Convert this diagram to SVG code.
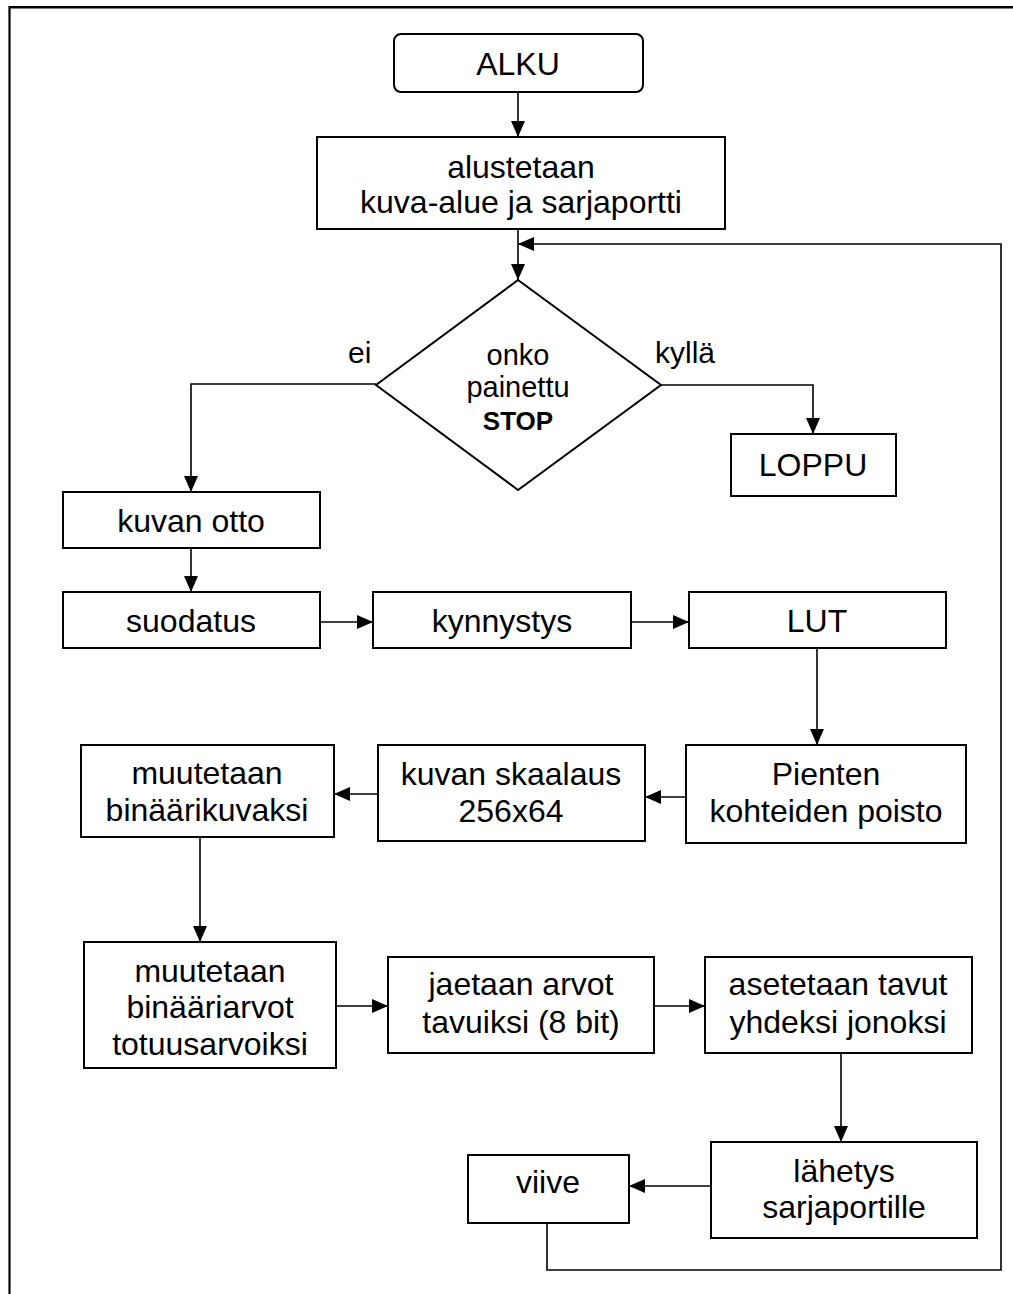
<svg xmlns="http://www.w3.org/2000/svg" width="1013" height="1294" viewBox="0 0 1013 1294">
  <style>
    .box { fill: #ffffff; stroke: #000000; stroke-width: 2; }
    .conn { fill: none; stroke: #000000; stroke-width: 1.6; }
    .t { font-family: "Liberation Sans", Arial, sans-serif; font-size: 32px; fill: #000000; text-anchor: middle; }
    .d { font-family: "Liberation Sans", Arial, sans-serif; font-size: 29px; fill: #000000; text-anchor: middle; }
    .lbl { font-family: "Liberation Sans", Arial, sans-serif; font-size: 30px; fill: #000000; }
    .b { font-weight: bold; font-size: 26px; }
  </style>
  <defs>
    <marker id="arr" markerUnits="userSpaceOnUse" markerWidth="17" markerHeight="15" refX="16" refY="7" orient="auto">
      <path d="M0,0 L16,7 L0,14 z" fill="#000000"/>
    </marker>
  </defs>
  <rect width="1013" height="1294" fill="#ffffff"/>
  <g id="border">
    <line x1="9.5" y1="7.3" x2="1013" y2="7.3" stroke="#000" stroke-width="2.6"/>
    <line x1="9.5" y1="6" x2="9.5" y2="1294" stroke="#000" stroke-width="2.2"/>
  </g>
  <g id="connectors">
    <line class="conn" x1="518" y1="92" x2="518" y2="137" marker-end="url(#arr)"/>
    <line class="conn" x1="518" y1="229" x2="518" y2="280" marker-end="url(#arr)"/>
    <polyline class="conn" points="376,384 191,384 191,492" marker-end="url(#arr)"/>
    <polyline class="conn" points="661,385 813,385 813,434" marker-end="url(#arr)"/>
    <line class="conn" x1="191" y1="548" x2="191" y2="592" marker-end="url(#arr)"/>
    <line class="conn" x1="320" y1="622" x2="373" y2="622" marker-end="url(#arr)"/>
    <line class="conn" x1="631" y1="622" x2="689" y2="622" marker-end="url(#arr)"/>
    <line class="conn" x1="817" y1="648" x2="817" y2="745" marker-end="url(#arr)"/>
    <line class="conn" x1="686" y1="797" x2="645" y2="797" marker-end="url(#arr)"/>
    <line class="conn" x1="378" y1="794" x2="334" y2="794" marker-end="url(#arr)"/>
    <line class="conn" x1="200" y1="837" x2="200" y2="942" marker-end="url(#arr)"/>
    <line class="conn" x1="336" y1="1006" x2="388" y2="1006" marker-end="url(#arr)"/>
    <line class="conn" x1="654" y1="1006" x2="705" y2="1006" marker-end="url(#arr)"/>
    <line class="conn" x1="841" y1="1053" x2="841" y2="1142" marker-end="url(#arr)"/>
    <line class="conn" x1="711" y1="1186" x2="629" y2="1186" marker-end="url(#arr)"/>
    <polyline class="conn" points="547,1223 547,1270 1001,1270 1001,244 518,244" marker-end="url(#arr)"/>
  </g>
  <g id="alku">
    <rect class="box" x="394" y="34" width="249" height="58" rx="7"/>
    <text class="t" x="518" y="75">ALKU</text>
  </g>
  <g id="alustetaan">
    <rect class="box" x="317" y="137" width="408" height="92"/>
    <text class="t" x="521" y="178">alustetaan</text>
    <text class="t" x="521" y="213">kuva-alue ja sarjaportti</text>
  </g>
  <g id="paatos">
    <polygon class="box" points="518,280 661,385 518,490 376,385"/>
    <text class="d" x="518" y="365">onko</text>
    <text class="d" x="518" y="397">painettu</text>
    <text class="d b" x="518" y="430">STOP</text>
  </g>
  <g id="label-ei">
    <text class="lbl" x="348" y="363">ei</text>
  </g>
  <g id="label-kylla">
    <text class="lbl" x="655" y="363">kyllä</text>
  </g>
  <g id="loppu">
    <rect class="box" x="731" y="434" width="165" height="62"/>
    <text class="t" x="813" y="476">LOPPU</text>
  </g>
  <g id="kuvan-otto">
    <rect class="box" x="63" y="492" width="257" height="56"/>
    <text class="t" x="191" y="532">kuvan otto</text>
  </g>
  <g id="suodatus">
    <rect class="box" x="63" y="592" width="257" height="56"/>
    <text class="t" x="191" y="632">suodatus</text>
  </g>
  <g id="kynnystys">
    <rect class="box" x="373" y="592" width="258" height="56"/>
    <text class="t" x="502" y="632">kynnystys</text>
  </g>
  <g id="lut">
    <rect class="box" x="689" y="592" width="257" height="56"/>
    <text class="t" x="817" y="632">LUT</text>
  </g>
  <g id="pienten">
    <rect class="box" x="686" y="745" width="280" height="98"/>
    <text class="t" x="826" y="785">Pienten</text>
    <text class="t" x="826" y="822">kohteiden poisto</text>
  </g>
  <g id="skaalaus">
    <rect class="box" x="378" y="745" width="267" height="96"/>
    <text class="t" x="511" y="785">kuvan skaalaus</text>
    <text class="t" x="511" y="822">256x64</text>
  </g>
  <g id="binaarikuva">
    <rect class="box" x="81" y="745" width="253" height="92"/>
    <text class="t" x="207" y="784">muutetaan</text>
    <text class="t" x="207" y="821">binäärikuvaksi</text>
  </g>
  <g id="totuusarvot">
    <rect class="box" x="84" y="942" width="252" height="126"/>
    <text class="t" x="210" y="982">muutetaan</text>
    <text class="t" x="210" y="1018">binääriarvot</text>
    <text class="t" x="210" y="1055">totuusarvoiksi</text>
  </g>
  <g id="jaetaan">
    <rect class="box" x="388" y="957" width="266" height="96"/>
    <text class="t" x="521" y="995">jaetaan arvot</text>
    <text class="t" x="521" y="1033">tavuiksi (8 bit)</text>
  </g>
  <g id="asetetaan">
    <rect class="box" x="705" y="957" width="267" height="96"/>
    <text class="t" x="838" y="995">asetetaan tavut</text>
    <text class="t" x="838" y="1033">yhdeksi jonoksi</text>
  </g>
  <g id="lahetys">
    <rect class="box" x="711" y="1142" width="266" height="96"/>
    <text class="t" x="844" y="1182">lähetys</text>
    <text class="t" x="844" y="1218">sarjaportille</text>
  </g>
  <g id="viive">
    <rect class="box" x="468" y="1155" width="161" height="68"/>
    <text class="t" x="548" y="1193">viive</text>
  </g>
</svg>
